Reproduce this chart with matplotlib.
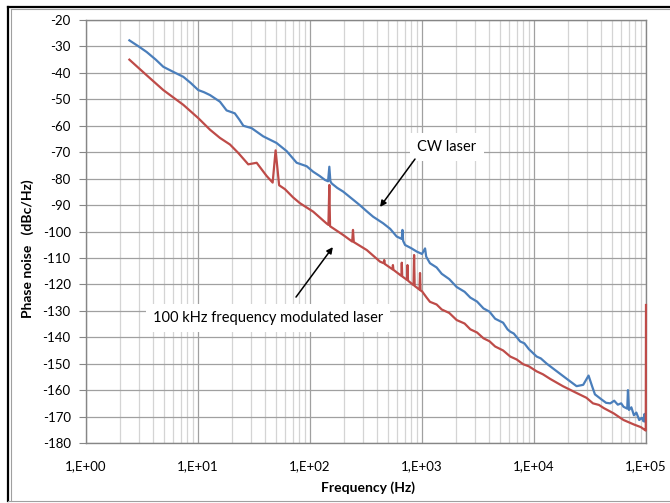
import matplotlib
matplotlib.use("Agg")
import matplotlib.pyplot as plt
from matplotlib.lines import Line2D
from matplotlib.ticker import FixedLocator, LogLocator, NullFormatter

plt.rcParams["font.family"] = ["Lato", "DejaVu Sans"]

# CW laser phase noise (Hz, dBc/Hz)
cw_freq = [2.44, 3.0, 3.48, 4.2, 4.9, 6.0, 7.4, 8.6, 10.05, 11.3, 12.8, 15.7,
           18.0, 21.3, 23.5, 25.4, 30.1, 38.2, 50.2, 61.9, 76.0, 93.3, 106.8,
           122, 136, 145, 148.8, 152, 156, 175, 197.6, 240, 278, 320, 366, 450,
           520, 594, 660, 669, 678, 706, 800, 898, 1000, 1065, 1090, 1178,
           1350, 1500, 1750, 2040, 2400, 2700, 3100, 3540, 4000, 4500, 5300,
           5800, 6140, 6600, 7530, 8200, 9000, 10560, 11500, 13000, 16000,
           20000, 24000, 27500, 30700, 33000, 35000, 40000, 44000, 48000,
           52000, 56000, 60000, 63000, 68000, 69000, 70500, 74000, 78000,
           82000, 87000, 92000, 95000, 97000, 99000]
cw_db = [-27.7, -30.2, -32.1, -35.0, -37.7, -39.6, -41.5, -43.8, -46.5, -47.3,
         -48.4, -50.9, -54.2, -55.3, -57.8, -60.0, -60.9, -64.0, -66.5, -69.6,
         -74.0, -75.3, -77.4, -79.0, -80.5, -81.0, -75.5, -81.0, -81.8, -83.5,
         -84.9, -87.8, -90.0, -92.3, -94.4, -96.9, -99.0, -101.9, -102.8,
         -99.4, -103.5, -105.1, -106.3, -107.6, -108.5, -106.4, -109.5, -112.0,
         -113.6, -116.0, -118.0, -121.0, -122.8, -125.0, -126.5, -129.1,
         -130.3, -133.0, -134.5, -137.0, -137.9, -138.6, -141.6, -142.3,
         -144.5, -147.3, -148.0, -150.0, -152.9, -156.0, -158.5, -158.0,
         -154.5, -158.5, -161.6, -163.5, -164.8, -165.0, -164.0, -165.5,
         -165.0, -166.3, -167.0, -160.0, -167.5, -166.5, -169.5, -168.5,
         -171.3, -170.5, -171.8, -169.0, -172.0]

# 100 kHz frequency modulated laser
fm_freq = [2.44, 3.48, 4.9, 7.4, 10.05, 12.8, 15.7, 19.3, 22.9, 28.1, 33.4,
           41.0, 46.4, 49.3, 53.0, 59.8, 70.6, 81.4, 106.8, 140, 146, 148.8,
           151, 156, 197.6, 238, 242, 246, 321, 422, 455, 460, 466, 545, 550,
           556, 655, 660, 666, 735, 742, 750, 840, 850, 860, 950, 960, 970,
           1000, 1100, 1178, 1350, 1500, 1750, 2040, 2400, 2700, 3100, 3540,
           4000, 4500, 5300, 6140, 7000, 8000, 9000, 10560, 12000, 14000,
           18100, 23000, 29400, 33600, 38000, 42000, 51500, 63000, 78000,
           90000, 98000, 99500, 100000]
fm_db = [-35.0, -40.9, -46.5, -52.1, -57.1, -61.5, -64.6, -67.1, -70.3, -74.6,
         -74.0, -79.0, -81.5, -69.3, -82.5, -84.0, -87.1, -89.3, -92.5, -96.9,
         -97.5, -82.4, -98.0, -98.4, -101.3, -103.8, -99.4, -104.0, -107.0,
         -111.4, -112.0, -110.8, -112.3, -114.3, -112.7, -114.5, -116.8,
         -111.8, -117.0, -118.3, -112.7, -118.6, -120.3, -108.9, -120.6,
         -122.0, -115.7, -122.3, -122.6, -125.0, -126.6, -127.6, -129.5,
         -130.8, -133.5, -134.8, -137.0, -138.2, -140.4, -141.5, -143.5,
         -145.0, -147.3, -148.4, -150.2, -151.0, -152.9, -154.0, -155.8,
         -158.5, -160.7, -162.9, -165.0, -165.6, -166.8, -168.8, -171.3,
         -173.0, -174.0, -175.1, -175.3, -127.8]

y_ticks = list(range(-180, -19, 10))
x_ticks = [1, 10, 100, 1000, 10000, 100000]
x_tick_labels = ["1,E+00", "1,E+01", "1,E+02", "1,E+03", "1,E+04", "1,E+05"]

fig = plt.figure(figsize=(6.70, 5.03), dpi=100)
ax = fig.add_axes([86 / 670, 1 - 443 / 503, 560 / 670, 423 / 503])

ax.plot(cw_freq, cw_db, color="#4a7ebb", lw=1.6, zorder=3)
ax.plot(fm_freq, fm_db, color="#be4b48", lw=1.6, zorder=3, clip_on=False)

ax.set_xscale("log")
ax.set_xlim(1, 1e5)
ax.set_ylim(-180, -20)
ax.xaxis.set_major_locator(FixedLocator(x_ticks))
ax.set_xticklabels(x_tick_labels)
ax.xaxis.set_minor_locator(LogLocator(base=10, subs=range(2, 10)))
ax.xaxis.set_minor_formatter(NullFormatter())
ax.set_yticks(y_ticks)
ax.set_yticklabels([str(v) for v in y_ticks])

ax.grid(which="major", color="#a0a0a0", lw=0.9, zorder=0)
ax.grid(which="minor", axis="x", color="#d4d4d4", lw=0.9, zorder=0)
ax.set_axisbelow(True)
for s in ax.spines.values():
    s.set_color("#868686")
    s.set_linewidth(1.0)

ax.tick_params(axis="x", which="both", length=0, pad=12, labelsize=9.5)
ax.tick_params(axis="y", which="major", length=5, color="#868686",
               pad=6, labelsize=9.5)

ax.set_xlabel("Frequency (Hz)", fontsize=10, fontweight="bold")
ax.xaxis.set_label_coords(0.504, -0.090)
ax.set_ylabel("Phase noise   (dBc/Hz)", fontsize=10, fontweight="bold")
ax.yaxis.set_label_coords(-0.093, 0.459)

ax.text(1671, -68, "CW laser", fontsize=10.5, ha="center", va="center",
        bbox=dict(facecolor="white", edgecolor="none", pad=5), zorder=4)
ax.annotate("", xy=(422, -90.7), xytext=(866, -72.6),
            arrowprops=dict(arrowstyle="-|>", color="black", lw=1.1,
                            mutation_scale=9, shrinkA=0, shrinkB=0), zorder=5)
ax.text(42.2, -132.7, "100 kHz frequency modulated laser", fontsize=10.5,
        ha="center", va="center",
        bbox=dict(facecolor="white", edgecolor="none", pad=5), zorder=4)
ax.annotate("", xy=(160, -105.9), xytext=(75, -124.8),
            arrowprops=dict(arrowstyle="-|>", color="black", lw=1.1,
                            mutation_scale=9, shrinkA=0, shrinkB=0), zorder=5)

# outer chart frame
W, H = 670, 503
frame = [((7.5, 7.5), (6.5, 501), "black", 1.6),
         ((7.5, 670), (6.5, 6.5), "black", 1.6),
         ((10.5, 10.5), (9, 501), "#a0a0a0", 0.8),
         ((10.5, 670), (9, 9), "#a0a0a0", 0.8),
         ((7.5, 670), (500.5, 500.5), "#a0a0a0", 0.8)]
for xs, ys, c, lw in frame:
    fig.add_artist(Line2D([x / W for x in xs], [1 - y / H for y in ys],
                          color=c, lw=lw, transform=fig.transFigure))

fig.savefig("out.png", dpi=100)
